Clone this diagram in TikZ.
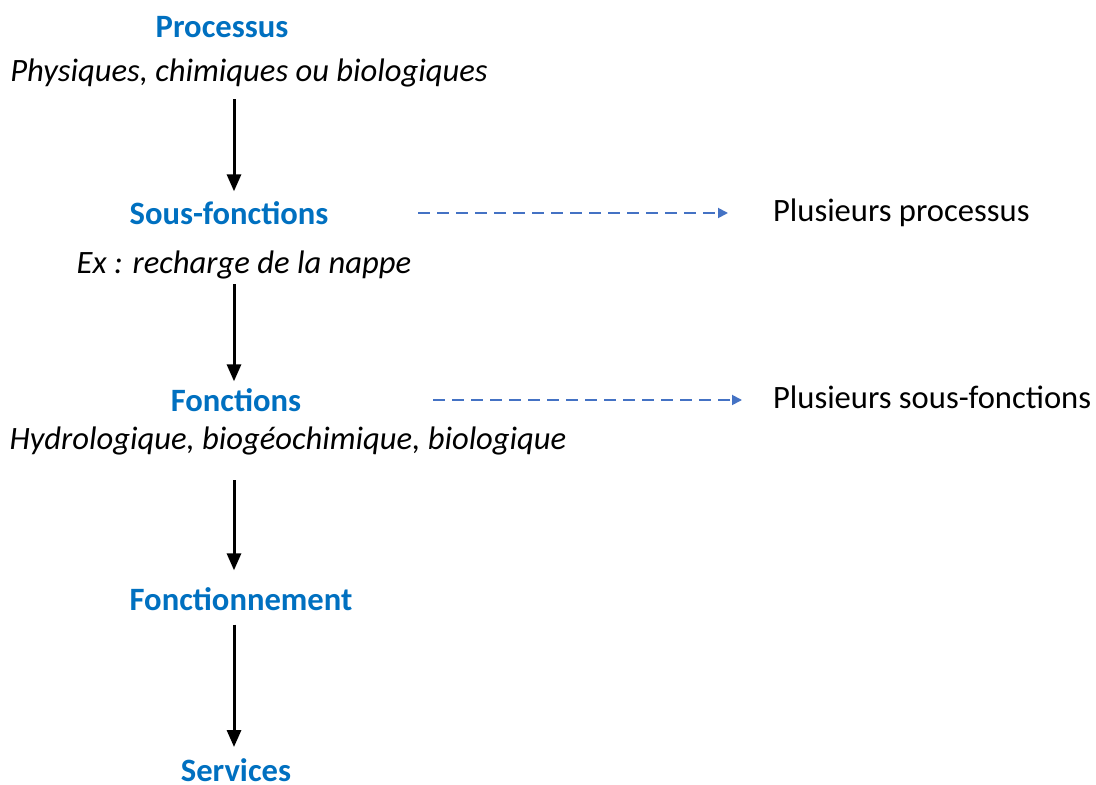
\documentclass[tikz,border=0pt]{standalone}
\usepackage{fontspec}
\setmainfont{Carlito}
\usetikzlibrary{arrows.meta}
\definecolor{titleblue}{RGB}{0,112,192}
\definecolor{dashblue}{RGB}{68,114,196}
\begin{document}
\begin{tikzpicture}[x=0.5pt,y=-0.5pt,
  font=\fontsize{16.3}{19}\selectfont,
  title/.style={text=titleblue,font=\fontsize{16.3}{19}\selectfont\bfseries},
  detail/.style={font=\fontsize{16.3}{19}\selectfont\itshape},
  flow/.style={-{Triangle[width=7pt,length=8.5pt]},line width=1.5pt},
  hint/.style={-{Triangle[width=5pt,length=5pt]},dashblue,line width=0.9pt,
    dash pattern=on 6pt off 3.5pt}]
  \useasboundingbox (0,0) rectangle (1096,785);
  \coordinate (axis) at (234,0);
  \node[title] (proc) at (222,27) {Processus};
  \node[detail] (phys) at (249,73) {Physiques, chimiques ou biologiques};
  \node[title] (sousf) at (229,213) {Sous-fonctions};
  \node[detail] (ex) at (244,265) {Ex : recharge de la nappe};
  \node[title] (fonc) at (236,400) {Fonctions};
  \node[detail] (hydro) at (288,441) {Hydrologique, biogéochimique, biologique};
  \node[title] (fnct) at (241,599) {Fonctionnement};
  \node[title,inner sep=1pt] (serv) at (236,770) {Services};
  \node[anchor=west] (pproc) at (766,213) {Plusieurs processus};
  \node[anchor=west] (psousf) at (766,397) {Plusieurs sous-fonctions};
  % main chain
  \draw[flow,shorten <=2.5pt,shorten >=1.5pt] (phys.south -| axis) -- (sousf.north -| axis);
  \draw[flow,shorten <=-1pt] (ex.south -| axis) -- (fonc.north -| axis);
  \draw[flow,shorten <=9pt,shorten >=5pt] (hydro.south -| axis) -- (fnct.north -| axis);
  \draw[flow,shorten <=3.5pt,shorten >=4.5pt] (fnct.south -| axis) -- (serv.north -| axis);
  % side notes
  \draw[hint,shorten <=41.5pt,shorten >=19pt] (sousf.east) -- (pproc.west);
  \draw[hint,shorten <=62.5pt,shorten >=12pt] (fonc.east) -- (psousf.west |- fonc.east);
\end{tikzpicture}
\end{document}
